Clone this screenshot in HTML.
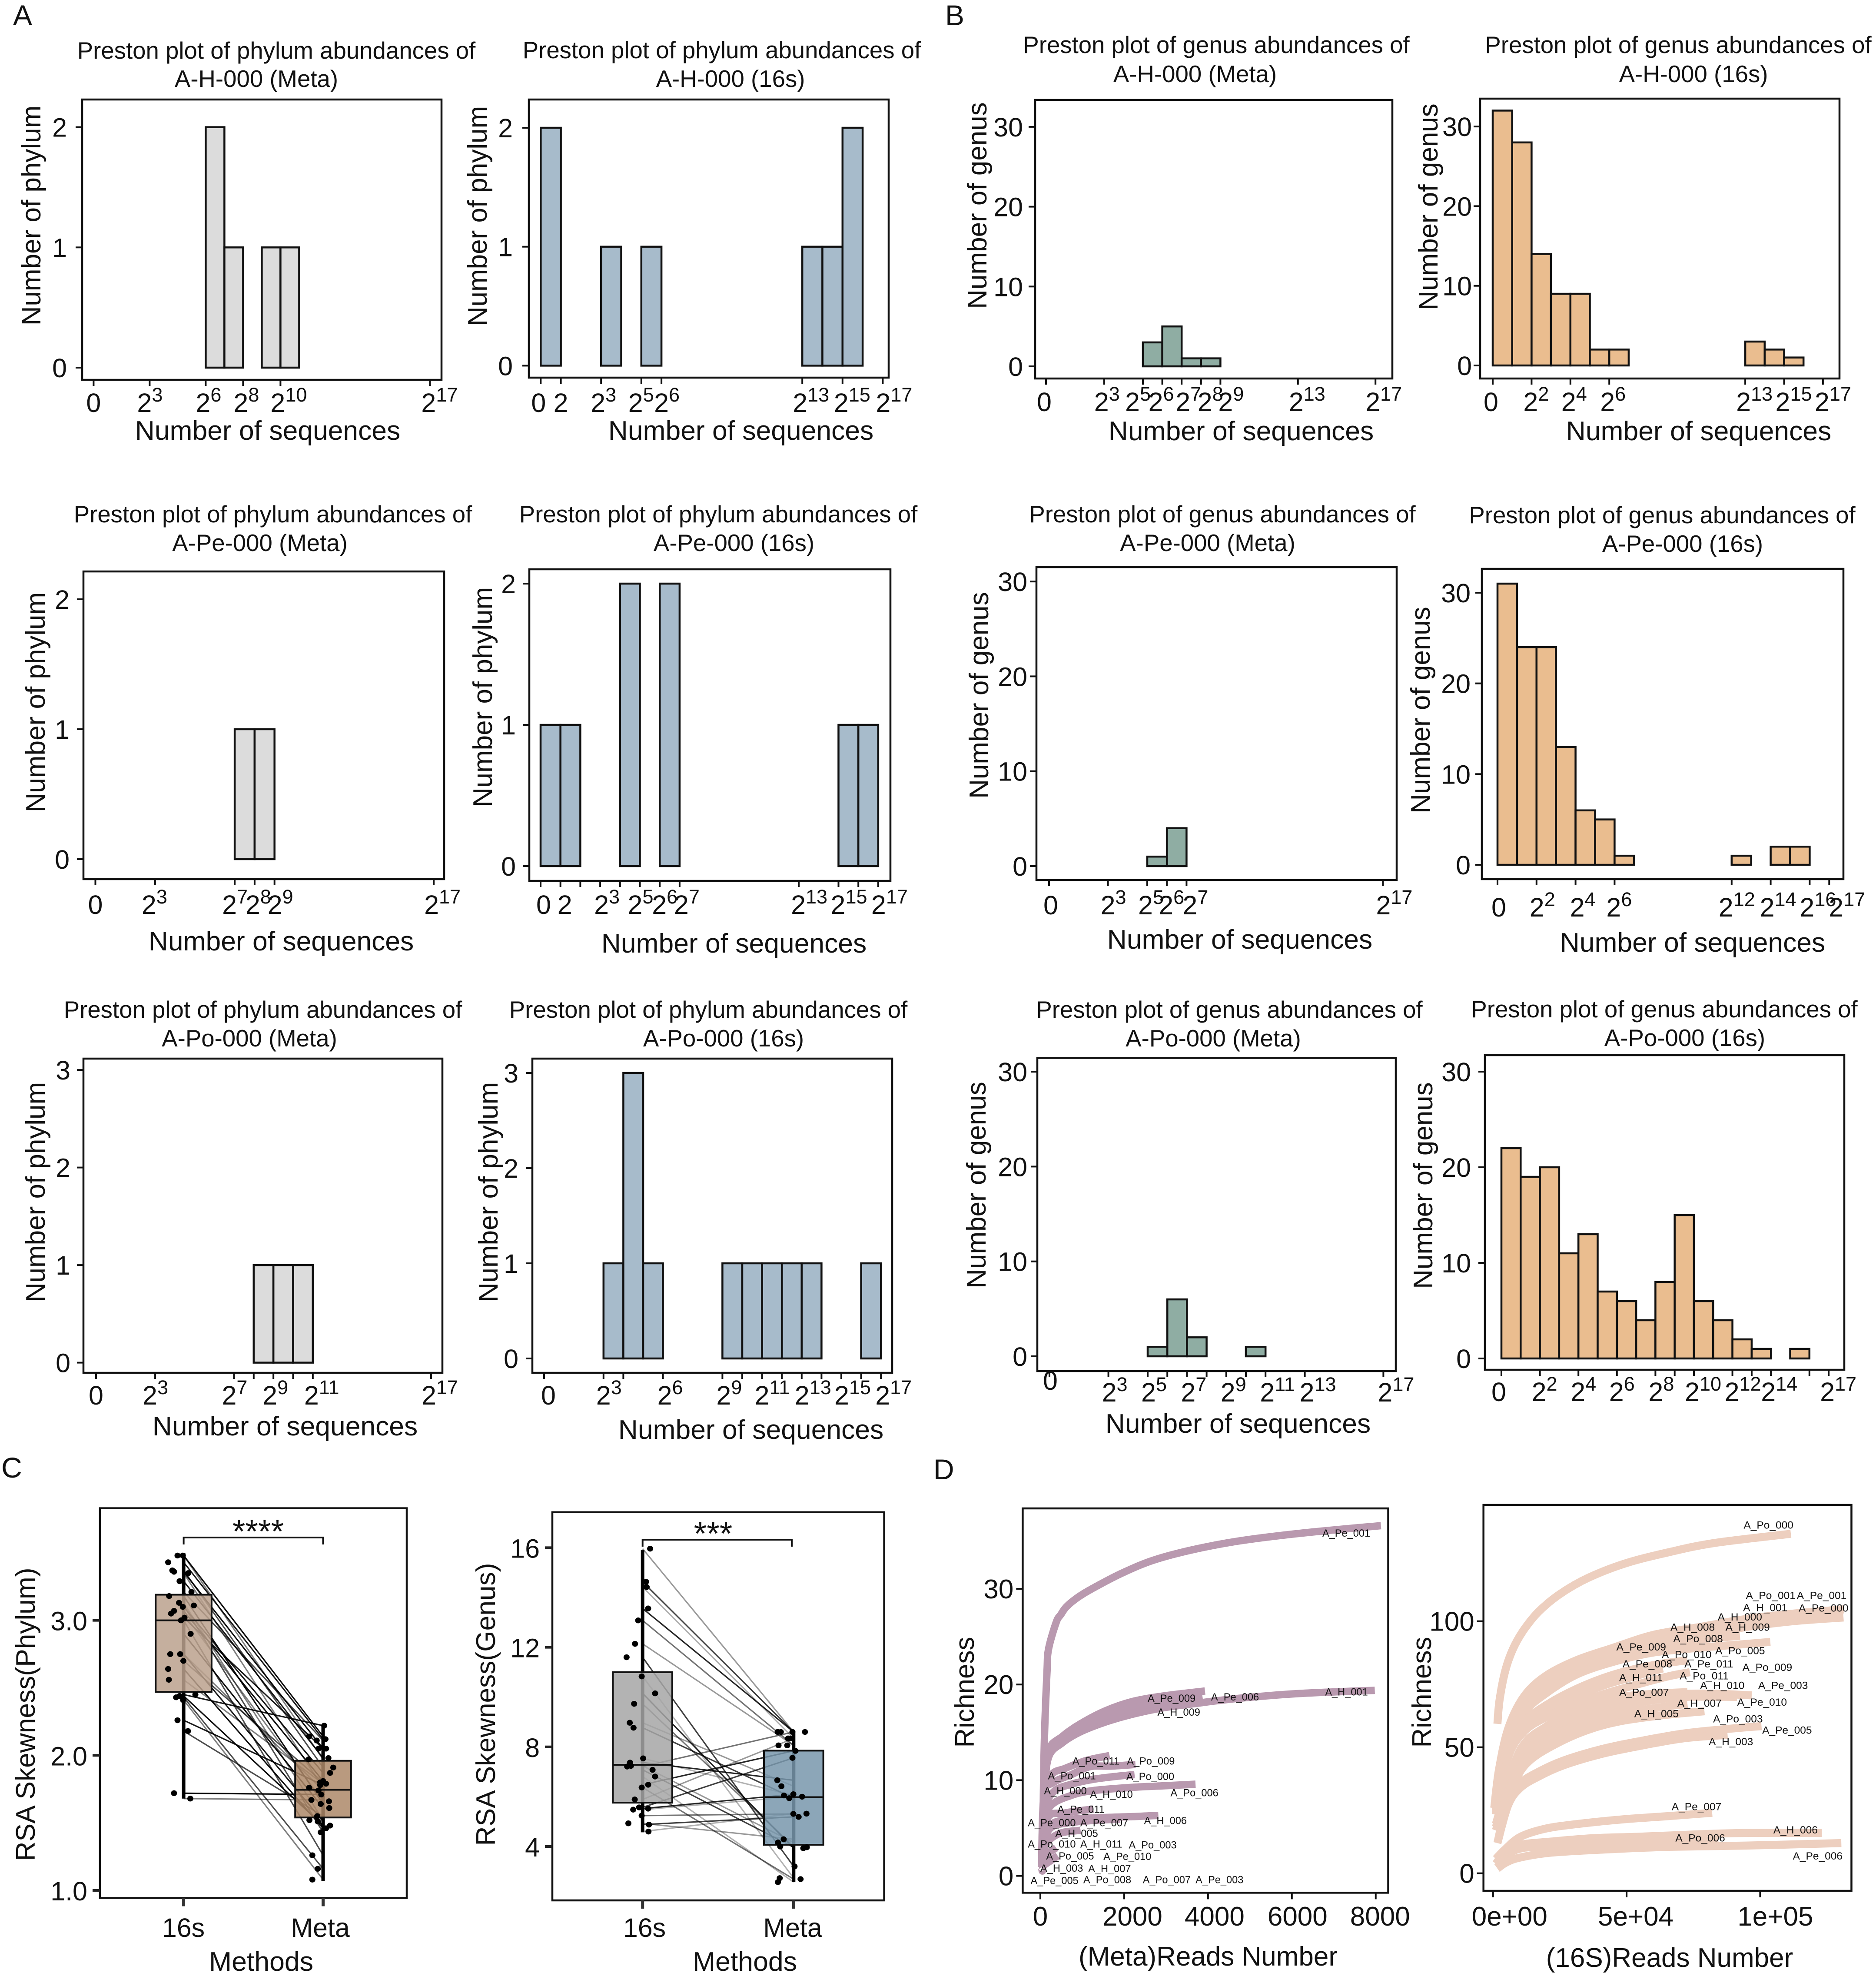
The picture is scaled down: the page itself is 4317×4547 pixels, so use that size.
<!DOCTYPE html>
<html lang="en">
<head>
<meta charset="utf-8">
<title>Preston plots, RSA skewness and rarefaction curves</title>
<style>
html,body{margin:0;padding:0;background:#fff}
svg{display:block}
text{font-family:"Liberation Sans",Arial,sans-serif;fill:#111}
</style>
</head>
<body>
<svg id="fig" xmlns="http://www.w3.org/2000/svg" width="4317" height="4547" viewBox="0 0 4317 4547">
<rect x="0" y="0" width="4317" height="4547" fill="#fff"/>
<text x="30" y="58" font-size="66">A</text>
<text x="2175" y="58" font-size="66">B</text>
<text x="3" y="3400" font-size="66">C</text>
<text x="2148" y="3404" font-size="66">D</text>
</svg>
<script>
/* ---------- Preston histogram data (bin = log2 class, count = taxa) ---------- */
const phyYTicks2 = [0, 1, 2];
const phyYTicks3 = [0, 1, 2, 3];
const genYTicks = [0, 10, 20, 30];

const phyHMetaBins = [6, 7, 9, 10];
const phyHMetaCounts = [2, 1, 1, 1];
const phyHMetaTicks = [0, 3, 6, 8, 10, 18];
const phyHMetaLabels = ['0', '2^3', '2^6', '2^8', '2^10', '2^17'];

const phyH16sBins = [0, 3, 5, 13, 14, 15];
const phyH16sCounts = [2, 1, 1, 1, 1, 2];
const phyH16sTicks = [0, 1, 3, 5, 6, 13, 15, 17];
const phyH16sLabels = ['0', '2', '2^3', '2^5', '2^6', '2^13', '2^15', '2^17'];

const phyPeMetaBins = [7, 8];
const phyPeMetaCounts = [1, 1];
const phyPeMetaTicks = [0, 3, 7, 8, 9, 17];
const phyPeMetaLabels = ['0', '2^3', '2^7', '2^8', '2^9', '2^17'];

const phyPe16sBins = [0, 1, 4, 6, 15, 16];
const phyPe16sCounts = [1, 1, 2, 2, 1, 1];
const phyPe16sTicks = [0, 1, 2, 3, 4, 5, 6, 7, 13, 15, 16, 17];
const phyPe16sLabels = ['0', '2', '', '2^3', '', '2^5', '2^6', '2^7', '2^13', '2^15', '', '2^17'];

const phyPoMetaBins = [8, 9, 10];
const phyPoMetaCounts = [1, 1, 1];
const phyPoMetaTicks = [0, 3, 7, 8, 9, 10, 11, 17];
const phyPoMetaLabels = ['0', '2^3', '2^7', '', '2^9', '', '2^11', '2^17'];

const phyPo16sBins = [3, 4, 5, 9, 10, 11, 12, 13, 16];
const phyPo16sCounts = [1, 3, 1, 1, 1, 1, 1, 1, 1];
const phyPo16sTicks = [0, 3, 4, 6, 9, 10, 11, 12, 13, 14, 15, 16, 17];
const phyPo16sLabels = ['0', '2^3', '', '2^6', '2^9', '', '2^11', '', '2^13', '', '2^15', '', '2^17'];

const genHMetaBins = [5, 6, 7, 8];
const genHMetaCounts = [3, 5, 1, 1];
const genHMetaTicks = [0, 3, 5, 6, 7, 8, 9, 13, 17];
const genHMetaLabels = ['0', '2^3', '2^5', '2^6', '2^7', '2^8', '2^9', '2^13', '2^17'];

const genH16sBins = [0, 1, 2, 3, 4, 5, 6, 13, 14, 15];
const genH16sCounts = [32, 28, 14, 9, 9, 2, 2, 3, 2, 1];
const genH16sTicks = [0, 2, 4, 6, 13, 15, 17];
const genH16sLabels = ['0', '2^2', '2^4', '2^6', '2^13', '2^15', '2^17'];

const genPeMetaBins = [5, 6];
const genPeMetaCounts = [1, 4];
const genPeMetaTicks = [0, 3, 5, 6, 7, 17];
const genPeMetaLabels = ['0', '2^3', '2^5', '2^6', '2^7', '2^17'];

const genPe16sBins = [0, 1, 2, 3, 4, 5, 6, 12, 14, 15];
const genPe16sCounts = [31, 24, 24, 13, 6, 5, 1, 1, 2, 2];
const genPe16sTicks = [0, 2, 4, 6, 12, 14, 16, 17];
const genPe16sLabels = ['0', '2^2', '2^4', '2^6', '2^12', '2^14', '2^16', '2^17'];

const genPoMetaBins = [5, 6, 7, 10];
const genPoMetaCounts = [1, 6, 2, 1];
const genPoMetaTicks = [0, 3, 5, 6, 7, 8, 9, 10, 11, 13, 17];
const genPoMetaLabels = ['0', '2^3', '2^5', '', '2^7', '', '2^9', '', '2^11', '2^13', '2^17'];

const genPo16sBins = [0, 1, 2, 3, 4, 5, 6, 7, 8, 9, 10, 11, 12, 13, 15];
const genPo16sCounts = [22, 19, 20, 11, 13, 7, 6, 4, 8, 15, 6, 4, 2, 1, 1];
const genPo16sTicks = [0, 2, 4, 6, 8, 9, 10, 12, 13, 14, 16, 17];
const genPo16sLabels = ['0', '2^2', '2^4', '2^6', '2^8', '', '2^10', '2^12', '', '2^14', '', '2^17'];

/* ---------- Panel C data (paired samples) ---------- */
const phylum16s = [3.48,3.48,3.43,3.37,3.36,3.35,3.29,3.21,3.18,3.13,3.10,3.11,3.07,3.05,3.02,3.00,2.90,2.75,2.75,2.70,2.64,2.56,2.45,2.43,2.44,2.41,2.26,2.18,1.72,1.68];
const phylum16sJitter = [-.044,-.006,-.111,-.081,-.069,.033,-.029,.056,-.104,-.033,-.006,.073,-.069,-.09,.006,-.019,.05,-.096,-.025,-.002,-.111,-.106,.084,-.054,-.029,-.004,-.044,.031,-.069,.048];
const phylumMeta = [2.14,1.97,2.12,1.91,2.05,1.76,1.98,2.11,1.64,1.52,1.87,1.43,1.81,1.66,2.05,1.26,1.61,1.74,1.51,1.80,1.46,1.79,2.22,1.16,1.48,1.08,1.78,1.55,1.71,1.67];
const phylumMetaJitter = [-.1,-.104,.017,.073,-.033,-.1,.038,-.046,-.017,-.098,.05,-.017,0,.042,.021,-.077,.044,-.033,-.038,-.021,.021,.021,.008,-.038,.05,-.077,-.021,-.042,-.013,-.084];
const phylumBox16s = [1.68, 2.47, 3.0, 3.19, 3.5];
const phylumBoxMeta = [1.07, 1.54, 1.745, 1.96, 2.22];
const phylumYTicks = [1.0, 2.0, 3.0];
const phylumYLabels = ['1.0', '2.0', '3.0'];

const genus16s = [15.96,14.63,14.42,13.56,13.08,12.14,11.6,10.83,10.15,9.73,8.97,8.77,7.54,7.37,7.21,7.24,7.08,6.81,6.48,6.37,5.89,5.57,5.48,5.52,5.24,4.93,4.88,4.6];
const genus16sJitter = [.05,.023,.027,.037,-.029,-.05,-.106,-.006,.083,-.056,-.085,-.06,.004,-.083,-.102,-.077,.066,.083,.037,-.006,-.052,-.023,-.062,.037,-.006,-.094,.042,.039];
const genusMeta = [8.6,8.6,8.34,8.6,8.06,8.06,3.2,2.73,3.93,4.0,6.42,5.94,6.05,6.66,8.6,4.16,3.97,2.57,7.84,2.69,8.34,7.56,6.0,6.1,5.31,4.29,5.19,5.32];
const genusMetaJitter = [-.106,-.085,-.037,-.008,-.1,-.042,.006,-.092,.064,-.089,-.081,-.029,-.064,-.108,.075,-.104,.087,-.104,.012,.046,-.021,-.008,.056,-.002,-.002,-.066,.033,.085];
const genusBox16s = [4.57, 5.76, 7.28, 11.0, 15.9];
const genusBoxMeta = [2.57, 4.07, 5.98, 7.85, 8.57];
const genusYTicks = [4, 8, 12, 16];
const genusYLabels = ['4', '8', '12', '16'];

/* ---------- Panel D data: (Meta) rarefaction curves ---------- */
const metaPe001Reads = [29,58,73,102,160,196,378,487,640,960,1396,1978,2705,3651,4742,6196,8124];
const metaPe001Rich = [0.93,1.1,8.4,15,21.4,23.7,26.5,27.3,28.2,29.3,30.4,31.7,33,34.1,35,35.8,36.6];
const metaPe009Reads = [58,102,196,524,960,1542,2196,2924,3927];
const metaPe009Rich = [1.1,8.4,13.07,14.57,15.9,17.23,18.22,18.79,19.32];
const metaH001Reads = [58,102,196,524,960,1542,2196,2924,3651,4742,6196,7978];
const metaH001Rich = [1.1,8.4,12.4,13.9,15.06,16.06,16.89,17.56,17.99,18.56,19.06,19.39];
const metaH009Reads = [58,102,196,524,960,1542,2196,2924,3869];
const metaH009Rich = [1.1,8.4,12.74,14.23,15.4,16.66,17.56,18.12,18.72];
const metaPo011Reads = [29,87,269,596,1105,1651];
const metaPo011Rich = [0.93,8.41,10.58,11.24,12.07,12.57];
const metaPo009Reads = [29,87,305,742,1178,1687,2269];
const metaPo009Rich = [0.93,8.41,9.74,10.58,11.41,11.47,11.64];
const metaPo000Reads = [29,87,305,742,1251,1833,2247];
const metaPo000Rich = [0.93,6.5,8.75,9.58,10.08,10.41,10.58];
const metaPo006Reads = [29,87,269,742,1251,2196,2924,3702];
const metaPo006Rich = [0.93,5.5,7.42,8.41,8.91,9.25,9.41,9.58];
const metaPe011Reads = [29,160,596,1265];
const metaPe011Rich = [0.93,5.92,6.58,6.98];
const metaH006Reads = [29,100,269,742,1469,2196,2815];
const metaH006Rich = [0.93,3.8,5.42,5.92,6.09,6.19,6.32];
const metaPe007Reads = [29,100,269,742,1469,1905];
const metaPe007Rich = [0.93,3.6,5.09,5.59,5.85,5.92];
const metaH005Reads = [29,124,451,960];
const metaH005Rich = [0.93,3.2,4.42,4.76];
const metaPo010Reads = [29,150,378];
const metaPo010Rich = [0.93,2.2,2.93];
const metaPo005Reads = [29,415];
const metaPo005Rich = [0.93,2.1];
const metaH003Reads = [29,160];
const metaH003Rich = [0.93,1.43];
const metaLabelNames = ['A_Pe_001','A_H_001','A_Pe_009','A_Pe_006','A_H_009','A_Po_011','A_Po_009','A_Po_001','A_Po_000','A_H_000','A_H_010','A_Po_006','A_Pe_011','A_H_006','A_Pe_000','A_Pe_007','A_H_005','A_Po_010','A_H_011','A_Po_003','A_Po_005','A_Pe_010','A_H_003','A_H_007','A_Pe_005','A_Po_008','A_Po_007','A_Pe_003'];
const metaLabelReads = [6727,6793,2560,4073,2793,764,2065,182,2051,87,1185,3105,407,2473,-298,953,356,-298,953,2109,138,1505,0,1142,-233,1025,2444,3702];
const metaLabelRich = [35.45,18.86,18.19,18.32,16.73,11.64,11.64,10.08,10.01,8.51,8.15,8.31,6.58,5.42,5.19,5.19,4.06,2.96,2.96,2.86,1.7,1.66,.43,.4,-.86,-.76,-.76,-.76];

/* ---------- Panel D data: (16S) rarefaction curves, reads in thousands ---------- */
const s16Po000Reads = [1.62,2.43,4.5,7.4,11.45,17.24,25.34,35.75,49.64,65.83,83.19,111.5];
const s16Po000Rich = [59.3,68.7,80.1,88.9,96.5,104,111,117.3,123,127.4,131.1,134.7];
const s16Pe001Reads = [.46,2.2,5.67,11.45,19.55,31.12,45,60.05,77.4,94.76,112.1,131.2];
const s16Pe001Rich = [25.9,41,57.4,70,78.2,84.5,89.5,94.6,97.7,100.9,103,104.7];
const s16Pe000Reads = [.46,2.2,5.67,11.45,19.55,31.12,45,60.05,77.4,94.76,112.1,131.2];
const s16Pe000Rich = [25.9,39.7,54.9,66.8,75,81.3,86.4,91.4,94.6,97.7,100,101.5];
const s16H008Reads = [1.04,5.67,11.45,19.55,31.12,45,60.05,77.4,92.44];
const s16H008Rich = [24.6,54.2,65.6,73.1,80.1,85.1,89.5,92.7,94.2];
const s16Po009Reads = [1.04,5.67,11.45,19.55,31.12,45,60.05,77.4,92.44,103.8];
const s16Po009Rich = [23.3,52.3,63.7,71.2,78.8,83.9,87.6,89.5,90.8,91.8];
const s16Pe008Reads = [1.04,5.67,11.45,19.55,31.12,45,60.05,72.78];
const s16Pe008Rich = [23.3,49.2,59.9,66.5,73.1,78.8,82.6,84.5];
const s16H011Reads = [1.04,5.67,11.45,19.55,31.12,42.69,53.11,63.52];
const s16H011Rich = [23.3,47.3,58,64.3,70.2,75,78.2,81.3];
const s16Po011Reads = [1.04,5.67,11.45,19.55,31.12,42.69,54.26,65.83,73.7];
const s16Po011Rich = [23.3,46,56.1,61.8,67.2,71.5,75,78.2,79.8];
const s16Po007Reads = [1.04,7.98,12.61,19.55,25.34,36.9,48.48,60.05,72.78];
const s16Po007Rich = [19.5,43.5,52.6,58,61.5,66.8,70,71.2,71.9];
const s16Pe010Reads = [1.04,7.98,13.77,25.34,36.9,48.48,60.05,72.78,84.35,96.84];
const s16Pe010Rich = [18.3,39.7,49.8,58.6,64.3,68.1,70,71.2,71.2,70.6];
const s16H010Reads = [1.04,7.98,13.77,25.34,36.9,48.48,60.05,72.78,91.29];
const s16H010Rich = [18.3,38.5,47.3,56.1,61.8,66.2,68.7,70,70];
const s16H005Reads = [1.04,7.98,13.77,25.34,36.9,48.48,63.52,79.14];
const s16H005Rich = [17,35.9,44.8,52.3,57.4,60.5,62.7,64.3];
const s16H007Reads = [1.04,7.98,13.77,25.34,36.9,48.48,63.52,72.78];
const s16H007Rich = [17,37.2,46,54.2,59.6,63.4,66,67.2];
const s16Po003Reads = [1.62,5.67,10.3,17.24,26.5,40.38,54.26,71.62,88.97,100.5];
const s16Po003Rich = [12,29.6,35.9,40.4,44.8,49.2,52.3,55.5,57.4,58.4];
const s16H003Reads = [1.62,5.67,10.3,17.24,26.5,40.38,54.26,71.62,87.82];
const s16H003Rich = [12,27.1,34,38.5,42.9,47.3,50.4,53.6,54.9];
const s16Pe007Reads = [1.04,4.5,10.3,19.55,31.12,48.48,65.83,82.03];
const s16Pe007Rich = [5.7,9.5,14.5,17.7,19.5,21.4,22.7,24];
const s16H006Reads = [1.04,4.5,10.3,21.87,36.9,54.26,77.4,94.76,123.1];
const s16H006Rich = [3.8,8.2,11.3,12.6,13.9,14.5,15.5,16,16];
const s16Po006Reads = [1.62,5.67,11.45,21.87,42.69,65.83,84.35];
const s16Po006Rich = [2.5,7.6,10.1,10.7,12.2,12.6,13.2];
const s16Pe006Reads = [1.62,5.1,10.3,21.87,42.69,65.83,94.76,130.4];
const s16Pe006Rich = [1.9,4.4,6.3,8.2,9.5,10.5,11,12];
const s16LabelNames = ['A_Po_000','A_Po_001','A_Pe_001','A_H_001','A_Pe_000','A_H_000','A_H_008','A_H_009','A_Po_008','A_Pe_009','A_Po_010','A_Po_005','A_Pe_008','A_Pe_011','A_Po_009','A_H_011','A_Po_011','A_H_010','A_Pe_003','A_Po_007','A_Pe_010','A_H_007','A_H_005','A_Po_003','A_Pe_005','A_H_003','A_Pe_007','A_H_006','A_Po_006','A_Pe_006'];
const s16LabelReads = [93.83,94.64,113.73,93.6,114.43,84.11,66.41,87.01,67.45,46.16,63.17,83.19,48.48,71.62,93.37,47.21,69.88,77.52,99.27,47.21,91.4,68.96,52.87,82.38,100.77,80.76,66.87,104.94,68.26,112.23];
const s16LabelRich = [136.8,108.8,108.8,104,103.8,100.3,96.2,96.2,91.7,88.4,85.4,86.9,81.7,81.7,80.3,76.2,76.9,73.1,73.1,70.4,66.5,66.1,61.9,59.9,55.4,50.8,25,15.8,12.6,5.5];

/* ---------- drawing helpers ---------- */
const svg = document.getElementById('fig');
const NS = 'http://www.w3.org/2000/svg';
const INK = '#111';
function mk(tag, attrs, parent) {
  const el = document.createElementNS(NS, tag);
  for (const k in attrs) el.setAttribute(k, attrs[k]);
  (parent || svg).appendChild(el);
  return el;
}
function write(parent, str, attrs) {
  const t = mk('text', attrs, parent);
  t.textContent = str;
  return t;
}
function vtitle(parent, str, x, cy, size) {
  return write(parent, str, {x: x, y: cy, 'font-size': size, 'text-anchor': 'middle', transform: 'rotate(-90 ' + x + ' ' + cy + ')'});
}
function smooth(pts) {
  let d = 'M' + pts[0][0].toFixed(1) + ' ' + pts[0][1].toFixed(1);
  for (let i = 0; i < pts.length - 1; i++) {
    const a = pts[i - 1] || pts[i], b = pts[i], c = pts[i + 1], e = pts[i + 2] || c;
    const k = 6;
    d += 'C' + (b[0] + (c[0] - a[0]) / k).toFixed(1) + ' ' + (b[1] + (c[1] - a[1]) / k).toFixed(1) + ' ' +
         (c[0] - (e[0] - b[0]) / k).toFixed(1) + ' ' + (c[1] - (e[1] - b[1]) / k).toFixed(1) + ' ' +
         c[0].toFixed(1) + ' ' + c[1].toFixed(1);
  }
  return d;
}
function frameRect(g, L, T, R, B) {
  const f = mk('rect', {x: L, y: T, width: R - L, height: B - T, fill: 'none', stroke: INK, 'stroke-width': 4.5}, g);
  
  
}

/* ---------- histogram panel ---------- */
function histPanel(p) {
  const g = mk('g', {});
  
  
  const x = v => p.x0 + v * p.u;
  const y = v => p.y0 - v * p.yu;

  const t1 = write(g, p.title[0], {x: p.t1[0], y: p.t1[1], 'font-size': 54.6, 'text-anchor': 'middle'});
  
  
  const t2 = write(g, p.title[1], {x: p.t2[0], y: p.t2[1], 'font-size': 54.6, 'text-anchor': 'middle'});
  
  

  p.bins.forEach((b, i) => {
    const r = mk('rect', {x: x(b), y: y(p.counts[i]), width: p.u, height: y(0) - y(p.counts[i]), fill: p.fill, stroke: INK, 'stroke-width': 4.5}, g);
    
    
  });

  frameRect(g, p.L, p.T, p.R, p.B);

  p.yTicks.forEach(v => {
    const tk = mk('line', {x1: p.L - 15, x2: p.L, y1: y(v), y2: y(v), stroke: INK, 'stroke-width': 4}, g);
    
    
    const tl = write(g, String(v), {x: p.L + p.ylx, y: y(v) + 22, 'font-size': 61, 'text-anchor': 'end'});
    
    
  });

  p.ticks.forEach((v, i) => {
    const tk = mk('line', {x1: x(v), x2: x(v), y1: p.B, y2: p.B + 14, stroke: INK, 'stroke-width': 4}, g);
    
    
    const lab = p.labels[i];
    if (!lab) return;
    let tl;
    if (lab.indexOf('^') > 0) {
      const parts = lab.split('^');
      tl = mk('text', {x: x(v) + p.nudge[i], y: p.tickY, 'font-size': 61}, g);
      const base = mk('tspan', {}, tl);
      base.textContent = parts[0];
      const sup = mk('tspan', {dy: -24, 'font-size': 45}, tl);
      sup.textContent = parts[1];
    } else {
      const lift = (lab === '0' && p.zeroLift) ? p.zeroLift : 0;
      tl = write(g, lab, {x: x(v) + p.nudge[i], y: p.tickY - lift, 'font-size': 61, 'text-anchor': 'middle'});
    }
    
    
  });

  if (p.xt) {
    const xt = write(g, 'Number of sequences', {x: p.xt[0], y: p.xt[1], 'font-size': 62.4, 'text-anchor': 'middle'});
    
    
  }
  const yt = vtitle(g, p.yLabel, p.yt[0], p.yt[1], 62);
  
  
}

const PHY = 'Preston plot of phylum abundances of';
const GEN = 'Preston plot of genus abundances of';
const NP = 'Number of phylum';
const NG = 'Number of genus';
const GREY = '#DCDCDC', BLUE = '#A7BBCB', GREEN = '#8FADA3', ORANGE = '#EABD8F';

histPanel({id:'phylum-h-meta',title:[PHY,'A-H-000 (Meta)'],t1:[636,135],t2:[590,200],L:189,T:229,R:1016,B:874,x0:215.4,u:43,y0:846,yu:276.7,bins:phyHMetaBins,counts:phyHMetaCounts,ticks:phyHMetaTicks,labels:phyHMetaLabels,yTicks:phyYTicks2,fill:GREY,tickY:948,nudge:[0,-29,-23,-22,-23,-20],ylx:-35,xt:[616,1012],yt:[93,496],yLabel:NP});
histPanel({id:'phylum-h-16s',title:[PHY,'A-H-000 (16s)'],t1:[1661,134],t2:[1681,200],L:1217,T:229,R:2045,B:869,x0:1244.3,u:46.3,y0:841.4,yu:273.7,bins:phyH16sBins,counts:phyH16sCounts,ticks:phyH16sTicks,labels:phyH16sLabels,yTicks:phyYTicks2,fill:BLUE,tickY:948,nudge:[-5,0,-24,-30,-17,-22,-20,-16],ylx:-37,xt:[1705,1012],yt:[1120,497],yLabel:NP});
histPanel({id:'phylum-pe-meta',title:[PHY,'A-Pe-000 (Meta)'],t1:[628,1202],t2:[598,1268],L:192,T:1315,R:1022,B:2023,x0:219.5,u:45.8,y0:1977,yu:299,bins:phyPeMetaBins,counts:phyPeMetaCounts,ticks:phyPeMetaTicks,labels:phyPeMetaLabels,yTicks:phyYTicks2,fill:GREY,tickY:2103,nudge:[0,-31,-29,-21,-16,-22],ylx:-32,xt:[647,2187],yt:[103,1616],yLabel:NP});
histPanel({id:'phylum-pe-16s',title:[PHY,'A-Pe-000 (16s)'],t1:[1653,1202],t2:[1689,1268],L:1218,T:1310,R:2049,B:2027,x0:1244,u:45.7,y0:1993,yu:325,bins:phyPe16sBins,counts:phyPe16sCounts,ticks:phyPe16sTicks,labels:phyPe16sLabels,yTicks:phyYTicks2,fill:BLUE,tickY:2103,nudge:[7,10,0,-14,0,-28,-18,-13,-18,-18,0,-16],ylx:-31,xt:[1689,2192],yt:[1132,1604],yLabel:NP});
histPanel({id:'phylum-po-meta',title:[PHY,'A-Po-000 (Meta)'],t1:[605,2342],t2:[574,2408],L:192,T:2436,R:1018,B:3159,x0:221,u:45.35,y0:3135.6,yu:224.5,bins:phyPoMetaBins,counts:phyPoMetaCounts,ticks:phyPoMetaTicks,labels:phyPoMetaLabels,yTicks:phyYTicks3,fill:GREY,tickY:3232,nudge:[0,-29,-28,0,-25,0,-20,-22],ylx:-30,xt:[656,3303],yt:[103,2743],yLabel:NP});
histPanel({id:'phylum-po-16s',title:[PHY,'A-Po-000 (16s)'],t1:[1630,2342],t2:[1665,2408],L:1225,T:2436,R:2053,B:3159,x0:1252,u:45.6,y0:3126,yu:219,bins:phyPo16sBins,counts:phyPo16sCounts,ticks:phyPo16sTicks,labels:phyPo16sLabels,yTicks:phyYTicks3,fill:BLUE,tickY:3232,nudge:[10,-17,0,-13,-14,0,-17,0,-16,0,-16,0,-13],ylx:-32,xt:[1728,3311],yt:[1145,2743],yLabel:NP});
histPanel({id:'genus-h-meta',title:[GEN,'A-H-000 (Meta)'],t1:[2799,122],t2:[2750,189],L:2382,T:230,R:3204,B:871,x0:2407,u:44.6,y0:843,yu:18.37,bins:genHMetaBins,counts:genHMetaCounts,ticks:genHMetaTicks,labels:genHMetaLabels,yTicks:genYTicks,fill:GREEN,tickY:946,nudge:[-4,-23,-41,-32,-14,-8,-5,-21,-23],ylx:-28,xt:[2856,1013],yt:[2270,473],yLabel:NG});
histPanel({id:'genus-h-16s',title:[GEN,'A-H-000 (16s)'],t1:[3862,122],t2:[3897,189],L:3406,T:227,R:4233,B:871,x0:3435,u:44.7,y0:841,yu:18.33,bins:genH16sBins,counts:genH16sCounts,ticks:genH16sTicks,labels:genH16sLabels,yTicks:genYTicks,fill:ORANGE,tickY:946,nudge:[-4,-19,-21,-21,-21,-20,-19],ylx:-19,xt:[3909,1013],yt:[3308,476],yLabel:NG});
histPanel({id:'genus-pe-meta',title:[GEN,'A-Pe-000 (Meta)'],t1:[2813,1202],t2:[2779,1268],L:2385,T:1305,R:3214,B:2025,x0:2414,u:45.2,y0:1993,yu:21.83,bins:genPeMetaBins,counts:genPeMetaCounts,ticks:genPeMetaTicks,labels:genPeMetaLabels,yTicks:genYTicks,fill:GREEN,tickY:2104,nudge:[4,-17,-21,-19,-9,-16],ylx:-21,xt:[2853,2183],yt:[2274,1600],yLabel:NG});
histPanel({id:'genus-pe-16s',title:[GEN,'A-Pe-000 (16s)'],t1:[3825,1204],t2:[3872,1270],L:3410,T:1309,R:4242,B:2023,x0:3446,u:44.9,y0:1990,yu:20.87,bins:genPe16sBins,counts:genPe16sCounts,ticks:genPe16sTicks,labels:genPe16sLabels,yTicks:genYTicks,fill:ORANGE,tickY:2109,nudge:[3,-16,-13,-19,-30,-25,-23,-1],ylx:-26,xt:[3895,2190],yt:[3290,1634],yLabel:NG});
histPanel({id:'genus-po-meta',title:[GEN,'A-Po-000 (Meta)'],t1:[2829,2342],t2:[2792,2408],L:2387,T:2434.5,R:3212,B:3155,x0:2415,u:45.2,y0:3121,yu:21.83,bins:genPoMetaBins,counts:genPoMetaCounts,ticks:genPoMetaTicks,labels:genPoMetaLabels,yTicks:genYTicks,fill:GREEN,tickY:3225,nudge:[2,-15,-15,0,-14,0,-13,0,-13,-12,-13],ylx:-23,zeroLift:27,xt:[2849,3297],yt:[2268,2727],yLabel:NG});
histPanel({id:'genus-po-16s',title:[GEN,'A-Po-000 (16s)'],t1:[3830,2341],t2:[3877,2407],L:3417,T:2428,R:4244,B:3152,x0:3455,u:44.3,y0:3126,yu:22,bins:genPo16sBins,counts:genPo16sCounts,ticks:genPo16sTicks,labels:genPo16sLabels,yTicks:genYTicks,fill:ORANGE,tickY:3224,nudge:[-6,-19,-18,-18,-16,0,-21,-18,0,-23,0,-20],ylx:-32,xt:null,yt:[3296,2728],yLabel:NG});

/* ---------- paired box panel ---------- */
function boxPanel(p) {
  const g = mk('g', {});
  
  
  const y = v => p.y0 - (v - p.vRef) * p.yu;
  const xj = (c, j) => c + j * (p.xB - p.xA);

  p.a.forEach((v, i) => {
    const l = mk('line', {x1: p.xA, y1: y(v), x2: p.xB, y2: y(p.b[i]), stroke: '#000', 'stroke-width': 3.2, 'stroke-opacity': p.alphas[i % p.alphas.length]}, g);
    
    
  });

  [[p.xA, p.boxA, p.fillA, p.halfA, '16s'], [p.xB, p.boxB, p.fillB, p.halfB, 'meta']].forEach(c => {
    const cx = c[0], s = c[1];
    const w = mk('line', {x1: cx, x2: cx, y1: y(s[0]), y2: y(s[4]), stroke: '#000', 'stroke-width': 8}, g);
    
    
    const r = mk('rect', {x: cx - c[3], y: y(s[3]), width: 2 * c[3], height: y(s[1]) - y(s[3]), fill: c[2], 'fill-opacity': .85, stroke: INK, 'stroke-width': 4}, g);
    
    
    const m = mk('line', {x1: cx - c[3], x2: cx + c[3], y1: y(s[2]), y2: y(s[2]), stroke: INK, 'stroke-width': 4}, g);
    
    
  });

  p.a.forEach((v, i) => {
    const d = mk('ellipse', {cx: xj(p.xA, p.aj[i]), cy: y(v), rx: 7, ry: 6.7, fill: '#000'}, g);
    
    
  });
  p.b.forEach((v, i) => {
    const d = mk('ellipse', {cx: xj(p.xB, p.bj[i]), cy: y(v), rx: 7, ry: 6.7, fill: '#000'}, g);
    
    
  });

  frameRect(g, p.L, p.T, p.R, p.B);

  p.yTicks.forEach((v, i) => {
    const tk = mk('line', {x1: p.L - 17, x2: p.L, y1: y(v), y2: y(v), stroke: '#222', 'stroke-width': 6}, g);
    
    
    const tl = write(g, p.yLabels[i], {x: p.L - 29, y: y(v) + 23, 'font-size': 61, 'text-anchor': 'end'});
    
    
  });
  [[p.xA, '16s', p.lab16], [p.xB, 'Meta', p.labMeta]].forEach(c => {
    const tk = mk('line', {x1: c[0], x2: c[0], y1: p.B, y2: p.B + 19, stroke: '#333', 'stroke-width': 7}, g);
    
    
    const tl = write(g, c[1], {x: c[2], y: 4457, 'font-size': 61, 'text-anchor': 'middle'});
    
    
  });

  const br = mk('path', {d: 'M' + p.xA + ' ' + (p.brY + 16) + 'V' + p.brY + 'H' + p.brEnd + 'V' + (p.brY + 16), fill: 'none', stroke: INK, 'stroke-width': 4}, g);
  
  
  const st = write(g, p.stars, {x: p.starX, y: p.brY + 12, 'font-size': 76, 'text-anchor': 'middle'});
  
  

  const xt = write(g, 'Methods', {x: p.mx, y: 4535, 'font-size': 62.6, 'text-anchor': 'middle'});
  
  
  const yt = vtitle(g, p.yTitle, p.yt[0], p.yt[1], 62.3);
  
  
}
boxPanel({id:'phylum',L:230,T:3470.6,R:936,B:4367.5,xA:422.6,xB:743.5,y0:4350,vRef:1,yu:310.7,a:phylum16s,aj:phylum16sJitter,b:phylumMeta,bj:phylumMetaJitter,boxA:phylumBox16s,boxB:phylumBoxMeta,fillA:'#BBA18D',fillB:'#AD8869',halfA:64.3,halfB:64.3,yTicks:phylumYTicks,yLabels:phylumYLabels,lab16:422,labMeta:737,brY:3538,brEnd:743.5,stars:'****',starX:594,mx:601,yTitle:'RSA Skewness(Phylum)',yt:[80,3945],alphas:[0.95,0.5,0.9,0.7]});
boxPanel({id:'genus',L:1271,T:3479.8,R:2034.6,B:4373,xA:1478.7,xB:1826.3,y0:4249,vRef:4,yu:57.3,a:genus16s,aj:genus16sJitter,b:genusMeta,bj:genusMetaJitter,boxA:genusBox16s,boxB:genusBoxMeta,fillA:'#A6A6A6',fillB:'#7896AB',halfA:68.3,halfB:68.3,yTicks:genusYTicks,yLabels:genusYLabels,lab16:1483,labMeta:1824,brY:3543,brEnd:1822,stars:'***',starX:1641,mx:1714,yTitle:'RSA Skewness(Genus)',yt:[1139,3922],alphas:[0.4,0.75,0.3,0.85,0.55]});

/* ---------- rarefaction panel ---------- */
function curvePanel(p) {
  const g = mk('g', {});
  
  
  const x = v => p.x0 + v * p.xu;
  const y = v => p.y0 - v * p.yu;

  p.curves.forEach(c => {
    const pts = c[1].map((v, i) => [x(v), y(c[2][i])]);
    const path = mk('path', {d: smooth(pts), fill: 'none', stroke: p.color, 'stroke-width': p.weight, 'stroke-linejoin': 'round'}, g);
    
    
  });
  p.names.forEach((n, i) => {
    const t = write(g, n, {x: x(p.lx[i]), y: y(p.ly[i]), 'font-size': p.labelSize});
    
    
  });

  frameRect(g, p.L, p.T, p.R, p.B);

  p.yTicks.forEach(v => {
    const tk = mk('line', {x1: p.L - 15, x2: p.L, y1: y(v), y2: y(v), stroke: INK, 'stroke-width': 4}, g);
    
    
    const tl = write(g, String(v), {x: p.L - 21, y: y(v) + 22, 'font-size': 62, 'text-anchor': 'end'});
    
    
  });
  p.xTicks.forEach((v, i) => {
    const tk = mk('line', {x1: x(v), x2: x(v), y1: p.B, y2: p.B + 15, stroke: INK, 'stroke-width': 4}, g);
    
    
    const tl = write(g, p.xLabels[i], {x: x(v) + p.nudge[i], y: 4431, 'font-size': 62, 'text-anchor': 'middle'});
    
    
  });
  const xt = write(g, p.xTitle, {x: p.xt[0], y: p.xt[1], 'font-size': 62, 'text-anchor': 'middle'});
  
  
  const yt = vtitle(g, 'Richness', p.yt[0], p.yt[1], 62);
  
  
}
const metaXTicks = [0, 2000, 4000, 6000, 8000];
const metaXLabels = ['0', '2000', '4000', '6000', '8000'];
const metaYTicks = [0, 10, 20, 30];
const s16XTicks = [0, 50, 100];
const s16XLabels = ['0e+00', '5e+04', '1e+05'];
const s16YTicks = [0, 50, 100];

curvePanel({id:'meta',L:2353.4,T:3471,R:3194.5,B:4355.4,x0:2394,xu:.09647,y0:4316.6,yu:22.02,color:'#B999AF',weight:17,
  curves:[['A_Pe_001',metaPe001Reads,metaPe001Rich],['A_Pe_009',metaPe009Reads,metaPe009Rich],['A_H_001',metaH001Reads,metaH001Rich],['A_H_009',metaH009Reads,metaH009Rich],['A_Po_011',metaPo011Reads,metaPo011Rich],['A_Po_009',metaPo009Reads,metaPo009Rich],['A_Po_000',metaPo000Reads,metaPo000Rich],['A_Po_006',metaPo006Reads,metaPo006Rich],['A_Pe_011',metaPe011Reads,metaPe011Rich],['A_H_006',metaH006Reads,metaH006Rich],['A_Pe_007',metaPe007Reads,metaPe007Rich],['A_H_005',metaH005Reads,metaH005Rich],['A_Po_010',metaPo010Reads,metaPo010Rich],['A_Po_005',metaPo005Reads,metaPo005Rich],['A_H_003',metaH003Reads,metaH003Rich]],
  names:metaLabelNames,lx:metaLabelReads,ly:metaLabelRich,labelSize:23.6,yTicks:metaYTicks,xTicks:metaXTicks,xLabels:metaXLabels,nudge:[0,19,15,13,10],xTitle:'(Meta)Reads Number',xt:[2780,4523],yt:[2241,3894]});
curvePanel({id:'16s',L:3413.7,T:3463,R:4260.5,B:4351,x0:3435.8,xu:6.146,y0:4310.7,yu:5.8,color:'#EDCFBF',weight:18.5,
  curves:[['A_Po_000',s16Po000Reads,s16Po000Rich],['A_Pe_001',s16Pe001Reads,s16Pe001Rich],['A_Pe_000',s16Pe000Reads,s16Pe000Rich],['A_H_008',s16H008Reads,s16H008Rich],['A_Po_009',s16Po009Reads,s16Po009Rich],['A_Pe_008',s16Pe008Reads,s16Pe008Rich],['A_H_011',s16H011Reads,s16H011Rich],['A_Po_011',s16Po011Reads,s16Po011Rich],['A_Po_007',s16Po007Reads,s16Po007Rich],['A_Pe_010',s16Pe010Reads,s16Pe010Rich],['A_H_010',s16H010Reads,s16H010Rich],['A_H_005',s16H005Reads,s16H005Rich],['A_H_007',s16H007Reads,s16H007Rich],['A_Po_003',s16Po003Reads,s16Po003Rich],['A_H_003',s16H003Reads,s16H003Rich],['A_Pe_007',s16Pe007Reads,s16Pe007Rich],['A_H_006',s16H006Reads,s16H006Rich],['A_Po_006',s16Po006Reads,s16Po006Rich],['A_Pe_006',s16Pe006Reads,s16Pe006Rich]],
  names:s16LabelNames,lx:s16LabelReads,ly:s16LabelRich,labelSize:24.5,yTicks:s16YTicks,xTicks:s16XTicks,xLabels:s16XLabels,nudge:[38,21,35],xTitle:'(16S)Reads Number',xt:[3842,4526],yt:[3293,3894]});
</script>
</body>
</html>
